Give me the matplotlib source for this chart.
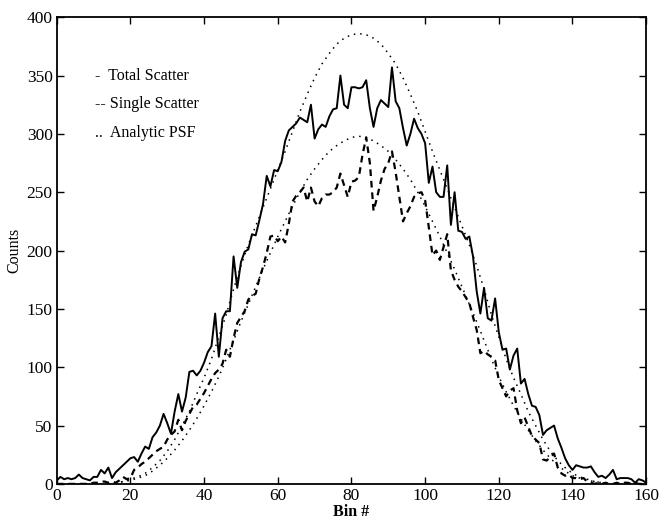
import matplotlib
matplotlib.use("Agg")
import matplotlib.pyplot as plt

# ---- data -------------------------------------------------------------
bins = list(range(0, 161))
total_scatter = [3, 6, 4, 5, 4, 5, 8, 5, 4, 3, 6, 6, 12, 9, 14, 5, 10, 13, 16, 19,
                 22, 23, 19, 26, 32, 30, 40, 44, 50, 60, 52, 43, 62, 77, 62, 74, 96, 97, 93, 97,
                 104, 113, 118, 146, 109, 142, 148, 148, 195, 168, 190, 199, 201, 214, 213, 226, 240, 264, 255, 269,
                 268, 276, 294, 303, 306, 309, 314, 312, 310, 325, 296, 304, 308, 306, 315, 321, 322, 350, 325, 322,
                 340, 340, 339, 340, 346, 322, 306, 322, 329, 326, 323, 357, 328, 322, 305, 290, 300, 313, 305, 300,
                 292, 258, 272, 250, 246, 246, 273, 222, 250, 217, 216, 210, 212, 195, 165, 146, 168, 142, 140, 159,
                 130, 115, 116, 98, 110, 116, 86, 90, 77, 67, 66, 59, 42, 46, 48, 50, 39, 31, 22, 16,
                 12, 16, 15, 14, 14, 15, 10, 6, 7, 5, 8, 12, 4, 5, 5, 5, 4, 1, 4, 3, 1]
single_scatter = [0, 0, 0, 0, 0, 0, 0, 0, 0, 0, 1, 1, 2, 2, 1, 2, 1, 3, 6, 4,
                  5, 12, 14, 17, 19, 22, 25, 28, 30, 32, 38, 42, 45, 55, 46, 54, 60, 66, 68, 73,
                  78, 84, 90, 95, 98, 103, 115, 109, 125, 138, 143, 148, 158, 161, 163, 176, 186, 198, 212, 213,
                  208, 212, 207, 223, 242, 247, 250, 254, 242, 254, 242, 238, 245, 248, 248, 250, 254, 266, 256, 246,
                  259, 260, 263, 282, 297, 275, 234, 246, 260, 270, 275, 285, 267, 246, 225, 232, 238, 246, 249, 250,
                  243, 220, 196, 200, 192, 203, 214, 183, 175, 169, 165, 160, 155, 143, 132, 112, 114, 111, 109, 106,
                  89, 82, 75, 80, 82, 63, 52, 57, 49, 41, 38, 35, 21, 20, 23, 26, 14, 9, 7, 8,
                  5, 5, 4, 5, 2, 1, 0, 1, 0, 1, 0, 0, 1, 0, 1, 1, 0, 1, 0, 0, 0]

psf_bins = list(range(14, 151, 2))
psf_total = [0, 1, 2, 4, 6, 9, 14, 20, 28, 38, 50, 62, 77, 91, 107, 126, 145, 167, 187, 205,
             221, 237, 253, 269, 285, 302, 319, 334, 348, 360, 369, 377, 382, 385, 386, 385, 382, 377, 369, 360,
             348, 334, 319, 302, 285, 269, 253, 237, 221, 205, 187, 167, 145, 126, 107, 91, 77, 62, 50, 38,
             28, 20, 14, 9, 6, 4, 2, 1, 0]
psf_single = [0, 1, 2, 3, 5, 7, 11, 16, 22, 29, 37, 46, 56, 67, 79, 92, 107, 123, 139, 154,
              169, 184, 198, 212, 225, 238, 250, 261, 270, 278, 285, 290, 294, 297, 298, 297, 294, 290, 285, 278,
              270, 261, 250, 238, 225, 212, 198, 184, 169, 154, 139, 123, 107, 92, 79, 67, 56, 46, 37, 29,
              22, 16, 11, 7, 5, 3, 2, 1, 0]

x_ticks = [0, 20, 40, 60, 80, 100, 120, 140, 160]
y_ticks = [0, 50, 100, 150, 200, 250, 300, 350, 400]
legend_lines = ["-  Total Scatter", "-- Single Scatter", "..  Analytic PSF"]

# ---- figure -----------------------------------------------------------
plt.rcParams['font.family'] = ['Liberation Serif', 'DejaVu Serif']
fig = plt.figure(figsize=(6.6, 5.22), dpi=100)
ax = fig.add_axes([0.086, 0.073, 0.893, 0.894])

ax.plot(bins, total_scatter, color='black', lw=1.4, ls='-')
ax.plot(bins, single_scatter, color='black', lw=1.6, ls=(0, (3.0, 2.2)))
ax.plot(psf_bins, psf_total, color='black', lw=1.1, ls=(0, (1, 3.2)))
ax.plot(psf_bins, psf_single, color='black', lw=1.1, ls=(0, (1, 3.2)))

ax.set_xlim(0, 160)
ax.set_ylim(0, 400)
ax.set_xticks(x_ticks)
ax.set_yticks(y_ticks)
ax.tick_params(direction='in', top=True, right=True, length=5, width=1,
               labelsize=12.5, pad=3)
for s in ax.spines.values():
    s.set_linewidth(1.3)

ax.set_xlabel('Bin #', fontsize=11.5, fontweight='bold', labelpad=0)
ax.set_ylabel('Counts', fontsize=11.5, labelpad=3)

for i, t in enumerate(legend_lines):
    ax.text(10.4, 350 - i * 24.5, t, fontsize=11.5, va='center', ha='left')

fig.savefig('out.png', dpi=100)
